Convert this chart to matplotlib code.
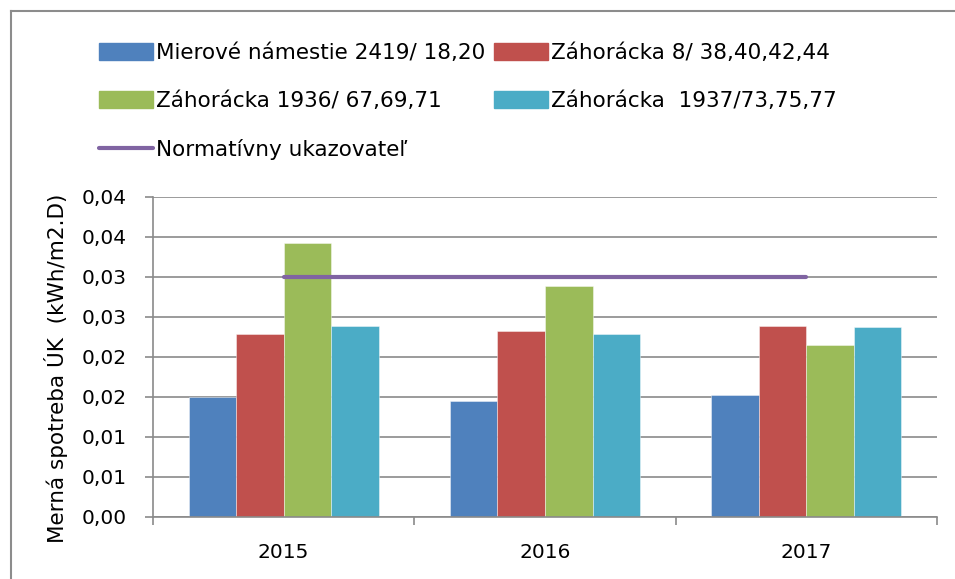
import numpy as np
import matplotlib as mpl
mpl.use('Agg')
import matplotlib.pyplot as plt
from matplotlib.lines import Line2D
from matplotlib.patches import Patch
from matplotlib.ticker import MultipleLocator, FuncFormatter

# data
years = ['2015', '2016', '2017']
mierove = [0.0150, 0.0145, 0.0152]
zahoracka8 = [0.0229, 0.0232, 0.0239]
zahoracka1936 = [0.0342, 0.0289, 0.0215]
zahoracka1937 = [0.0239, 0.0229, 0.0237]
normativ = [0.030, 0.030, 0.030]

names = ['Mierové námestie 2419/ 18,20', 'Záhorácka 8/ 38,40,42,44',
         'Záhorácka 1936/ 67,69,71', 'Záhorácka  1937/73,75,77']
series = [mierove, zahoracka8, zahoracka1936, zahoracka1937]
colors = ['#4F81BD', '#C0504D', '#9BBB59', '#4BACC6']
line_color = '#8064A2'
grid_color = '#8a8a8a'

plt.rcParams['font.family'] = ['DejaVu Sans']

fig = plt.figure(figsize=(9.55, 5.79), dpi=100)
ax = fig.add_axes([153/955, 62/579, 784/955, 320.3/579])

x = np.arange(len(years))
width = 1/5.5
for i, (vals, c) in enumerate(zip(series, colors)):
    ax.bar(x + (i - 1.5)*width, vals, width, color=c,
           edgecolor=(1, 1, 1, 0.5), linewidth=0.6, zorder=2)

ax.plot(x, normativ, color=line_color, lw=3, solid_capstyle='round', zorder=3)

ax.set_xlim(-0.5, 2.5)
ax.set_ylim(0, 0.04)
ax.yaxis.set_major_locator(MultipleLocator(0.005))
# excel style rounding, half up
ax.yaxis.set_major_formatter(FuncFormatter(
    lambda v, p: ("%.2f" % (np.floor(v*100 + 0.5 + 1e-9)/100)).replace('.', ',')))
ax.set_xticks(x)
ax.set_xticklabels(years)
ax.set_xticks([-0.5, 0.5, 1.5, 2.5], minor=True)
ax.tick_params(axis='x', which='major', length=0, labelsize=14.5, pad=19)
ax.tick_params(axis='x', which='minor', length=5.8, width=1.2, color=grid_color)
ax.tick_params(axis='y', length=5.8, width=1.2, color=grid_color, labelsize=14.5, pad=13)
ax.grid(axis='y', color=grid_color, lw=1.2, zorder=0)
ax.set_axisbelow(True)
for s in ['top', 'right']:
    ax.spines[s].set_visible(False)
for s in ['left', 'bottom']:
    ax.spines[s].set_color(grid_color)
    ax.spines[s].set_linewidth(1.2)

ax.set_ylabel('Merná spotreba ÚK  (kWh/m2.D)', fontsize=15.5)
ax.yaxis.label.set_va('center')
ax.yaxis.set_label_coords((56 - 153)/784, 0.465)

handles = [Patch(color=colors[0]), Patch(color=colors[2]),
           Line2D([], [], color=line_color, lw=3, solid_capstyle='round'),
           Patch(color=colors[1]), Patch(color=colors[3])]
labels = [names[0], names[2], 'Normatívny ukazovateľ', names[1], names[3]]
fig.legend(handles, labels, ncol=2, loc='upper left',
           bbox_to_anchor=(99/955, 1 - 43/579), bbox_transform=fig.transFigure,
           frameon=False, fontsize=15.5, handlelength=2.5, handleheight=0.84,
           handletextpad=0.15, columnspacing=0.4, labelspacing=1.3,
           borderpad=0, borderaxespad=0)

# chart frame (cut off on the right and bottom)
ytop = 1 - 11/579
fig.add_artist(Line2D([10.5/955, 10.5/955], [0, ytop], color='#8c8c8c', lw=1.5,
                      transform=fig.transFigure))
fig.add_artist(Line2D([10.5/955, 1], [ytop, ytop], color='#8c8c8c', lw=1.5,
                      transform=fig.transFigure))

fig.savefig('out.png', dpi=100)
